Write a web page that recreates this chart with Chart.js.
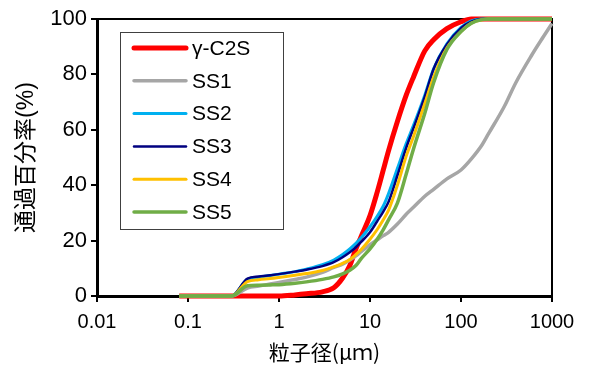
<!DOCTYPE html>
<html>
<head>
<meta charset="utf-8">
<script src="https://cdn.jsdelivr.net/npm/chart.js@4.4.1/dist/chart.umd.min.js"></script>
<style>
  html, body { margin: 0; padding: 0; background: #fff; }
</style>
</head>
<body>
<canvas id="psd" width="592" height="365"></canvas>
<script>
// particle size (um)
const sizes = [0.08, 0.1, 0.2, 0.3, 0.45, 0.6, 0.8, 1, 1.5, 2, 3, 4, 5, 6, 7, 8, 10, 12, 14, 16, 20, 25, 30, 40, 50, 70, 100, 130, 170, 200, 300, 400, 600, 800, 1000];

// passing percentage (%)
const gammaC2S = [0, 0, 0, 0, 0, 0, 0, 0, 0.4, 0.8, 1.5, 3, 6.5, 11, 17, 21.5, 29, 37.5, 45.5, 52.5, 63, 72.5, 79, 88.5, 92.5, 96.5, 99, 100, 100, 100, 100, 100, 100, 100, 100];
const ss1 = [0, 0, 0, 0, 2.9, 3.6, 4.3, 4.9, 6, 6.8, 8.5, 10.3, 11.5, 13, 14.5, 16, 18.5, 20.3, 21.8, 23, 26, 29.5, 32, 36, 38.5, 42.3, 45.5, 49.5, 54.5, 58.5, 68.5, 77, 87, 93.5, 98.4];
const ss2 = [0, 0, 0, 0, 6, 6.8, 7.4, 7.9, 8.8, 9.7, 11.3, 13, 15, 17, 19, 21, 25, 28.8, 32.5, 37, 46, 55, 61.5, 72.5, 82, 91, 97, 99.3, 100, 100, 100, 100, 100, 100, 100];
const ss3 = [0, 0, 0, 0, 6.3, 7.0, 7.5, 7.9, 8.8, 9.5, 10.8, 12.2, 14, 15.8, 17.6, 19.5, 23, 27, 30.5, 34, 43.5, 53.5, 60.5, 72, 82, 90.8, 96.7, 99, 100, 100, 100, 100, 100, 100, 100];
const ss4 = [0, 0, 0, 0, 5.2, 5.9, 6.3, 6.7, 7.5, 8.1, 9.2, 10.5, 11.8, 13.2, 15, 16.8, 20.5, 24, 27.5, 31, 40, 50.5, 57.5, 69.5, 79, 89.5, 95.5, 98.5, 99.7, 100, 100, 100, 100, 100, 100];
const ss5 = [0, 0, 0, 0, 3.7, 3.9, 4.0, 4.1, 4.6, 5.1, 6.0, 6.9, 8, 9.3, 11, 13.5, 17, 20.5, 24, 27.5, 33.5, 44, 53, 66, 77, 89, 95.5, 98.5, 99.8, 100, 100, 100, 100, 100, 100];

const seriesNames = ['γ-C2S', 'SS1', 'SS2', 'SS3', 'SS4', 'SS5'];
const seriesValues = [gammaC2S, ss1, ss2, ss3, ss4, ss5];
const seriesColors = ['#FF0000', '#A6A6A6', '#00B0F0', '#000080', '#FFC000', '#70AD47'];
const seriesWidths = [5, 3.5, 3, 2.5, 3, 3.5];

const xTickValues = [0.01, 0.1, 1, 10, 100, 1000];
const xTickLabels = ['0.01', '0.1', '1', '10', '100', '1000'];

const datasets = seriesNames.map((name, i) => ({
  label: name,
  data: sizes.map((s, j) => ({ x: s, y: seriesValues[i][j] })),
  borderColor: seriesColors[i],
  backgroundColor: seriesColors[i],
  borderWidth: seriesWidths[i],
  pointRadius: 0,
  cubicInterpolationMode: 'monotone',
  clip: false,
  order: seriesNames.length - i
}));

// top/right frame of the plot area
const frame = {
  id: 'frame',
  beforeDatasetsDraw(chart) {
    const a = chart.chartArea;
    const ctx = chart.ctx;
    ctx.save();
    ctx.strokeStyle = '#000';
    ctx.lineWidth = 2;
    ctx.beginPath();
    ctx.moveTo(a.left, a.top);
    ctx.lineTo(a.right, a.top);
    ctx.lineTo(a.right, a.bottom);
    ctx.stroke();
    ctx.restore();
  }
};

// legend box inside the plot
const legendBox = {
  id: 'legendBox',
  afterDatasetsDraw(chart) {
    const ctx = chart.ctx;
    ctx.save();
    ctx.fillStyle = '#fff';
    ctx.fillRect(120.5, 32.5, 163, 197);
    ctx.strokeStyle = '#404040';
    ctx.lineWidth = 1;
    ctx.strokeRect(120.5, 32.5, 163, 197);
    chart.data.datasets.forEach((ds, i) => {
      const y = 48 + i * 32.8;
      ctx.strokeStyle = ds.borderColor;
      ctx.lineWidth = ds.borderWidth;
      ctx.lineCap = 'round';
      ctx.beginPath();
      ctx.moveTo(134, y);
      ctx.lineTo(186, y);
      ctx.stroke();
      ctx.fillStyle = '#000';
      ctx.font = '21px "Liberation Sans", Arial, sans-serif';
      ctx.textBaseline = 'middle';
      ctx.fillText(ds.label, 192, y + 1);
    });
    ctx.restore();
  }
};

new Chart(document.getElementById('psd'), {
  type: 'line',
  data: { datasets: datasets },
  plugins: [frame, legendBox],
  options: {
    responsive: false,
    animation: false,
    layout: { padding: { left: 0, right: 40, top: 19, bottom: 0 } },
    plugins: {
      legend: { display: false },
      tooltip: { enabled: false }
    },
    scales: {
      x: {
        type: 'logarithmic',
        min: 0.01,
        max: 1000,
        afterBuildTicks: (scale) => {
          scale.ticks = xTickValues.map(v => ({ value: v }));
        },
        afterFit: (scale) => { scale.height = 69; },
        ticks: {
          color: '#000',
          font: { family: '"Liberation Sans", Arial, sans-serif', size: 20 },
          padding: 8,
          maxRotation: 0,
          autoSkip: false,
          callback: (v) => xTickLabels[xTickValues.indexOf(v)]
        },
        grid: { drawOnChartArea: false, drawTicks: true, tickLength: 6, color: '#000', lineWidth: 2 },
        border: { color: '#000', width: 3 },
        title: {
          display: true,
          text: '粒子径(μｍ)',
          color: '#000',
          font: { family: '"Noto Sans CJK JP", sans-serif', size: 21 },
          padding: { top: 0, bottom: 0 }
        }
      },
      y: {
        min: 0,
        max: 100,
        afterFit: (scale) => { scale.width = 97; },
        ticks: {
          stepSize: 20,
          color: '#000',
          font: { family: '"Liberation Sans", Arial, sans-serif', size: 22 },
          padding: 4
        },
        grid: { drawOnChartArea: false, drawTicks: true, tickLength: 6, color: '#000', lineWidth: 2 },
        border: { color: '#000', width: 3 },
        title: {
          display: true,
          text: '通過百分率(%)',
          color: '#000',
          font: { family: '"Liberation Sans", "Noto Sans CJK JP", sans-serif', size: 23 },
          padding: { top: 13, bottom: 0 }
        }
      }
    }
  }
});
</script>
</body>
</html>
